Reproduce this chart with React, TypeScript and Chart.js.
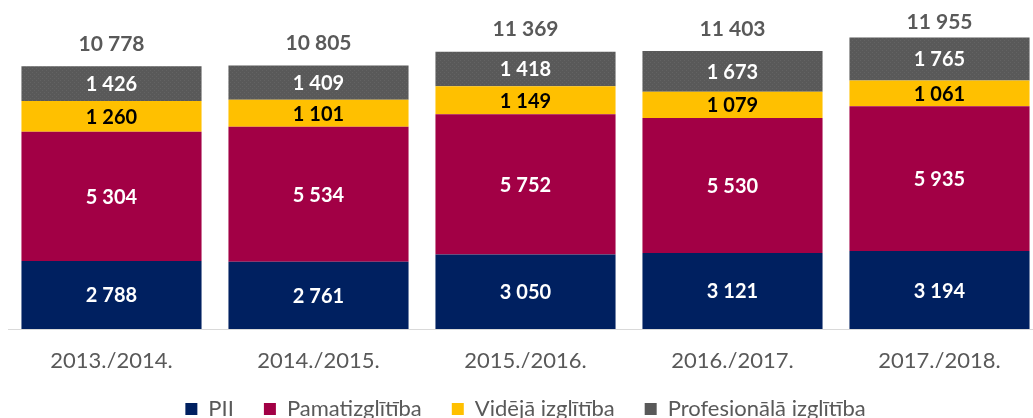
import React, { useEffect, useRef } from "react";
import { Chart, registerables } from "chart.js";

Chart.register(...registerables);

const categories = ["2013./2014.", "2014./2015.", "2015./2016.", "2016./2017.", "2017./2018."];
const pii = [2788, 2761, 3050, 3121, 3194];
const pamat = [5304, 5534, 5752, 5530, 5935];
const videja = [1260, 1101, 1149, 1079, 1061];
const prof = [1426, 1409, 1418, 1673, 1765];
const totals = [10778, 10805, 11369, 11403, 11955];

const seriesNames = ["PII", "Pamatizglītība", "Vidējā izglītība", "Profesionālā izglītība"];
const seriesColors = ["#002060", "#A20045", "#FFC000", "#595959"];
const labelColors = ["#FFFFFF", "#FFFFFF", "#000000", "#FFFFFF"];

const FONT = "Lato, 'Open Sans', sans-serif";

const fmt = (v: number) => {
  const s = String(Math.round(v));
  return s.replace(/\B(?=(\d{3})+(?!\d))/g, " ");
};

const labelPlugin = {
  id: "barLabels",
  afterDatasetsDraw(chart: any) {
    const ctx = chart.ctx;
    ctx.save();
    ctx.textAlign = "center";
    ctx.textBaseline = "middle";
    chart.data.datasets.forEach((ds: any, di: number) => {
      const meta = chart.getDatasetMeta(di);
      meta.data.forEach((bar: any, i: number) => {
        const y = (bar.y + bar.base) / 2;
        ctx.fillStyle = labelColors[di];
        ctx.font = `bold 20px ${FONT}`;
        ctx.fillText(fmt(ds.data[i]), bar.x, y + 1);
      });
    });
    const topMeta = chart.getDatasetMeta(chart.data.datasets.length - 1);
    topMeta.data.forEach((bar: any, i: number) => {
      ctx.fillStyle = "#595959";
      ctx.font = `bold 21px ${FONT}`;
      const y = Math.max(22, bar.y - 22);
      ctx.fillText(fmt(totals[i]), bar.x, y);
    });
    ctx.restore();
  },
};

function makeGrayPattern(): CanvasPattern | string {
  const c = document.createElement("canvas");
  c.width = 4;
  c.height = 4;
  const g = c.getContext("2d");
  if (!g) return "#595959";
  g.fillStyle = "#595959";
  g.fillRect(0, 0, 4, 4);
  g.fillStyle = "#636363";
  g.fillRect(0, 0, 1, 1);
  g.fillRect(2, 2, 1, 1);
  const p = g.createPattern(c, "repeat");
  return p || "#595959";
}

export default function App() {
  const ref = useRef<HTMLCanvasElement | null>(null);
  useEffect(() => {
    if (!ref.current) return;
    const grayPattern = makeGrayPattern();
    const values = [pii, pamat, videja, prof];
    const chart = new Chart(ref.current, {
      type: "bar",
      data: {
        labels: categories,
        datasets: values.map((d, i) => ({
          label: seriesNames[i],
          data: d,
          backgroundColor: i === 3 ? (grayPattern as any) : seriesColors[i],
          borderWidth: 0,
          barPercentage: 0.87,
          categoryPercentage: 1,
        })),
      },
      options: {
        animation: false,
        responsive: false,
        maintainAspectRatio: false,
        layout: { padding: { left: 8, right: 17, top: 0, bottom: 0 } },
        plugins: {
          legend: {
            position: "bottom",
            labels: {
              generateLabels: () =>
                seriesNames.map((n, i) => ({
                  text: n,
                  fillStyle: seriesColors[i],
                  strokeStyle: seriesColors[i],
                  lineWidth: 0,
                  hidden: false,
                  datasetIndex: i,
                  fontColor: "#595959",
                })),
              boxWidth: 12,
              boxHeight: 12,
              padding: 30,
              color: "#595959",
              font: { family: FONT, size: 22 },
            },
          },
          tooltip: { enabled: false },
        },
        scales: {
          x: {
            stacked: true,
            grid: { display: false, drawTicks: false },
            border: { display: true, color: "#D9D9D9", width: 1 },
            ticks: { color: "#595959", font: { family: FONT, size: 22 }, padding: 19 },
            afterFit: (scale: any) => {
              scale.height = 39;
            },
          },
          y: {
            stacked: true,
            display: false,
            min: 0,
            max: 13490,
          },
        },
      },
      plugins: [labelPlugin],
    });
    return () => chart.destroy();
  }, []);
  return (
    <div style={{ position: "fixed", left: 0, top: 0, width: 1033, height: 418, overflow: "hidden", background: "#fff" }}>
      <canvas ref={ref} width={1060} height={430} style={{ display: "block", width: 1060, height: 430 }} />
    </div>
  );
}
